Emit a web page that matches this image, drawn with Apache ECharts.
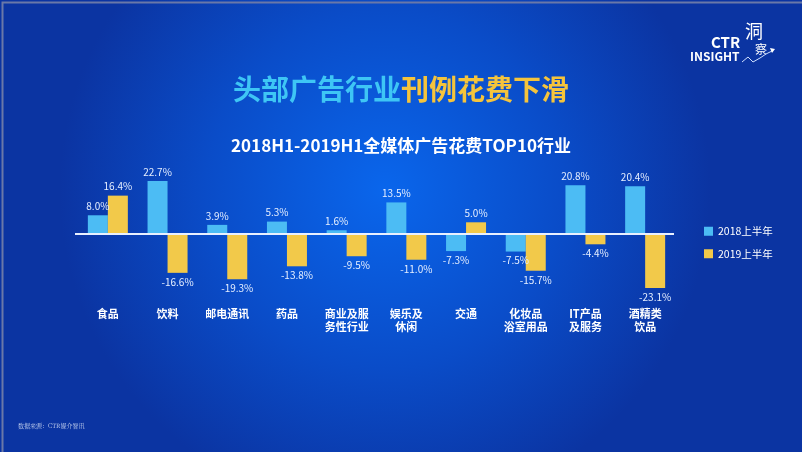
<!DOCTYPE html>
<html><head><meta charset="utf-8">
<script src="https://cdn.jsdelivr.net/npm/echarts@6/dist/echarts.min.js"></script>
<style>html,body{margin:0;padding:0;}#c{width:802px;height:452px;}</style>
</head><body><div id="c"></div>
<script>
var categories = ['食品','饮料','邮电通讯','药品','商业及服\n务性行业','娱乐及\n休闲','交通','化妆品\n浴室用品','IT产品\n及服务','酒精类\n饮品'];
var s2018 = [8.0, 22.7, 3.9, 5.3, 1.6, 13.5, -7.3, -7.5, 20.8, 20.4];
var s2019 = [16.4, -16.6, -19.3, -13.8, -9.5, -11.0, 5.0, -15.7, -4.4, -23.1];
var seriesNames = ['2018上半年','2019上半年'];

var chart = echarts.init(document.getElementById('c'));
var font = '"Noto Sans CJK SC", "Noto Sans", sans-serif';
function lbl(pos){
  return {show:true, position:pos, distance:4, color:'#e6efff', fontSize:10, fontFamily:font,
    formatter:function(p){return p.value.toFixed(1)+'%';}};
}
function mkData(arr){
  return arr.map(function(v){return {value:v, label:{position: v>=0?'top':'bottom'}};});
}
chart.setOption({
  backgroundColor:{type:'radial', x:0.48, y:0.42, r:0.72,
    colorStops:[{offset:0,color:'#0a66ec'},{offset:0.55,color:'#0a4cc8'},{offset:1,color:'#0b34a2'}]},
  title:[
    {text:'{a|头部广告行业}{b|刊例花费下滑}', left:'center', top:70,
      textStyle:{rich:{a:{color:'#3ec6f5',fontSize:28,fontWeight:'bold',fontFamily:font},
                       b:{color:'#f5c43c',fontSize:28,fontWeight:'bold',fontFamily:font}}}},
    {text:'2018H1-2019H1全媒体广告花费TOP10行业', left:'center', top:132,
      textStyle:{color:'#ffffff',fontSize:17,fontWeight:'bold',fontFamily:font}},
    {text:'数据来源：CTR媒介智讯', left:13, top:418,
      textStyle:{color:'#c8d4f0',fontSize:6,fontWeight:'normal',fontFamily:'"Noto Serif CJK SC", serif'}}
  ],
  graphic:[
    {type:'rect', left:0, top:0, shape:{width:802, height:452}, silent:true,
      style:{fill:'none', stroke:'#6a78a8', lineWidth:2}},
    {type:'text', left:711, top:35, style:{text:'CTR', fill:'#fff', font:'bold 15px '+font}},
    {type:'text', left:690, top:50, style:{text:'INSIGHT', fill:'#fff', font:'bold 12px '+font}},
    {type:'text', left:745, top:22, style:{text:'洞', fill:'#fff', font:'18px '+font}},
    {type:'text', left:755, top:43, style:{text:'察', fill:'#fff', font:'12px '+font}},
    {type:'polyline', silent:true, shape:{points:[[742,62],[748,57],[753,62],[760,58],[766,54],[772,51]]},
      style:{stroke:'#cfe0ff', lineWidth:1, fill:'none'}},
    {type:'polygon', silent:true, shape:{points:[[770,48],[775,49],[772,53]]}, style:{fill:'#ffffff'}}
  ],
  legend:{orient:'vertical', left:704, top:226, padding:0, itemWidth:9, itemHeight:9, itemGap:12,
    icon:'rect', textStyle:{color:'#ffffff',fontSize:10.5,fontFamily:font}, data:seriesNames},
  grid:{left:78, right:127, top:175.5, height:117},
  xAxis:{type:'category', data:categories, axisLine:{show:false, onZero:false}, axisTick:{show:false},
    axisLabel:{color:'#ffffff', fontSize:11, fontWeight:'bold', fontFamily:font, margin:15, lineHeight:13, interval:0}},
  yAxis:{type:'value', min:-25, max:25, show:false, splitLine:{show:false}},
  series:[
    {name:seriesNames[0], type:'bar', barWidth:20, barGap:'0%', itemStyle:{color:'#4cbcf4'},
      label:lbl('top'), data:mkData(s2018),
      markLine:{silent:true, symbol:'none', label:{show:false}, lineStyle:{color:'#e8f0ff', width:2, type:'solid'},
        data:[[{x:75, yAxis:0},{x:674, yAxis:0}]]}},
    {name:seriesNames[1], type:'bar', barWidth:20, itemStyle:{color:'#f2c94a'},
      label:lbl('top'), data:mkData(s2019)}
  ]
});
</script></body></html>
